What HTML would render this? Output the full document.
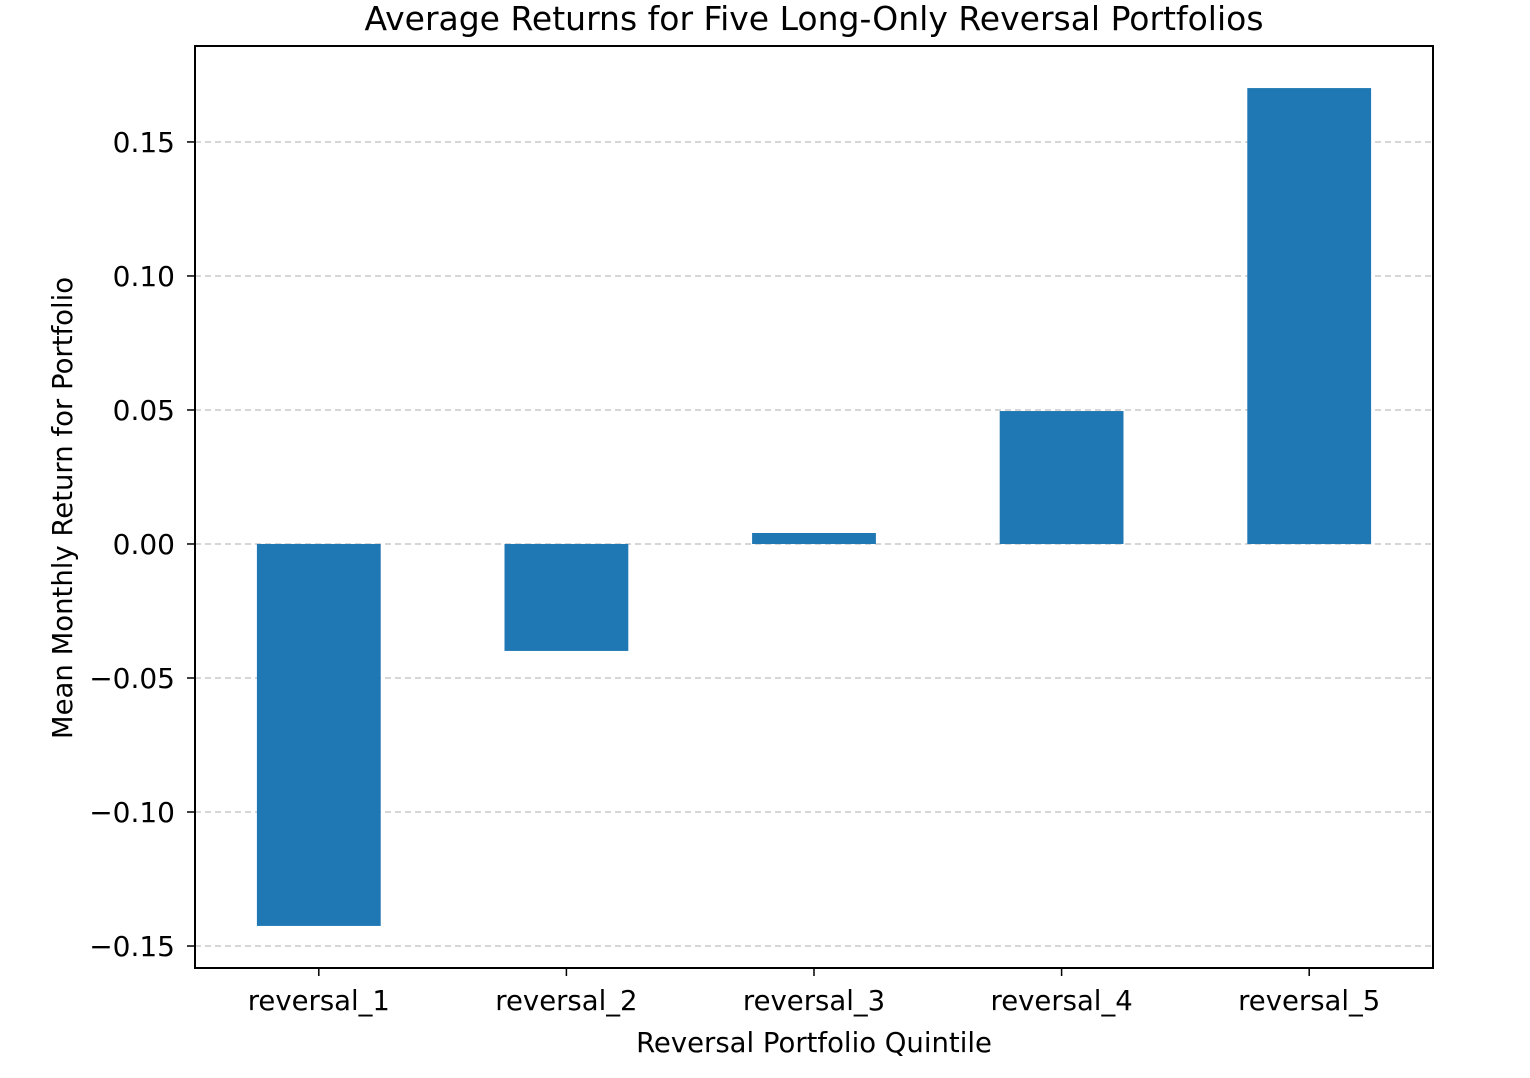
<!DOCTYPE html>
<html><head><meta charset="utf-8"><style>
body{margin:0;background:#fff;}
svg text{font-family:"DejaVu Sans","Liberation Sans",sans-serif;fill:#000;}
</style></head><body>
<svg id="chart" width="1530" height="1073">
<text x="814" y="30" font-size="33" text-anchor="middle">Average Returns for Five Long-Only Reversal Portfolios</text>
<g id="grid"></g><g id="bars"></g><g id="yaxis"></g><g id="xaxis"></g>
<rect x="195" y="46" width="1238" height="922" fill="none" stroke="#000" stroke-width="2"/>
<text x="814" y="1052" font-size="27.5" text-anchor="middle">Reversal Portfolio Quintile</text>
<text transform="translate(72,508) rotate(-90)" font-size="27.5" text-anchor="middle">Mean Monthly Return for Portfolio</text>
</svg>
<script>
const categories=["reversal_1","reversal_2","reversal_3","reversal_4","reversal_5"];
const values=[-0.1425,-0.0399,0.0041,0.0496,0.1701];
const yTicks=[-0.15,-0.10,-0.05,0.00,0.05,0.10,0.15];
const yTickLabels=["\u22120.15","\u22120.10","\u22120.05","0.00","0.05","0.10","0.15"];
const NS="http://www.w3.org/2000/svg";
const L=195,R=1433,T=46,B=968,yMin=-0.1582,yMax=0.1858;
const y=v=>B-(v-yMin)/(yMax-yMin)*(B-T);
const xStep=(R-L)/categories.length;
const x=i=>L+xStep*(i+0.5);
const bw=xStep*0.5;
function mk(tag,attrs,parent){const e=document.createElementNS(NS,tag);for(const k in attrs)e.setAttribute(k,attrs[k]);document.getElementById(parent).appendChild(e);return e;}
yTicks.forEach((t,i)=>{
 const g=mk('line',{x1:L,x2:R,y1:y(t),y2:y(t),stroke:'#c8c8c8','stroke-width':1.5,'stroke-dasharray':'6,4'},'grid');
 
 
 const tk=mk('line',{x1:L-8,x2:L,y1:y(t),y2:y(t),stroke:'#000','stroke-width':1.5},'yaxis');
 
 
 const tx=mk('text',{x:L-20,y:y(t)+10,'font-size':28,'text-anchor':'end'},'yaxis');
 tx.textContent=yTickLabels[i];
 
 
});
categories.forEach((c,i)=>{
 const v=values[i];
 const b=mk('rect',{x:x(i)-bw/2,y:Math.min(y(v),y(0)),width:bw,height:Math.abs(y(v)-y(0)),fill:'#1f77b4'},'bars');
 
 
 const tk=mk('line',{x1:x(i),x2:x(i),y1:B,y2:B+8,stroke:'#000','stroke-width':1.5},'xaxis');
 
 
 const tx=mk('text',{x:x(i),y:B+42,'font-size':27.5,'text-anchor':'middle'},'xaxis');
 tx.textContent=c;
 
 
});
</script>
</body></html>
